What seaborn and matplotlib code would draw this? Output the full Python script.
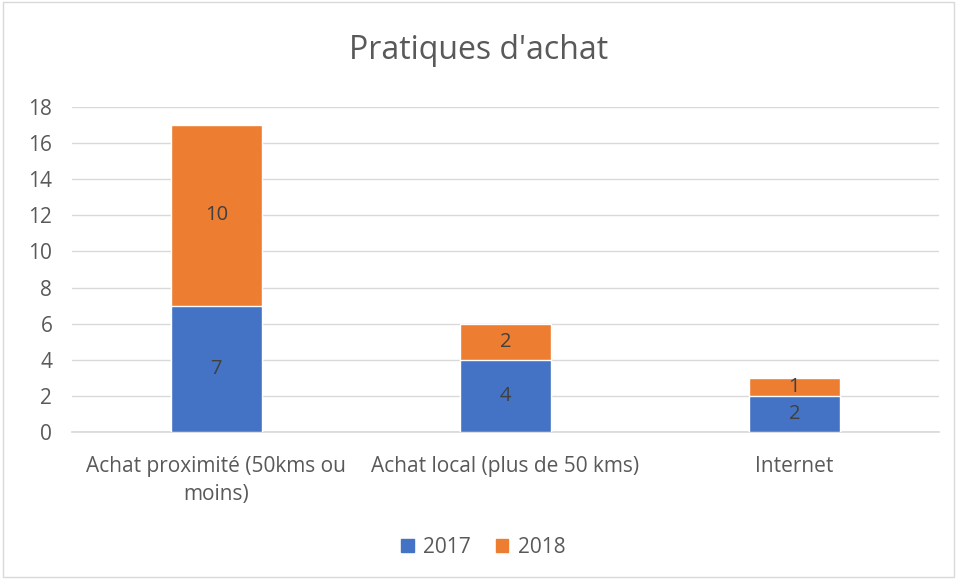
import matplotlib
matplotlib.use("Agg")
import matplotlib.pyplot as plt
import numpy as np
import pandas as pd
import seaborn as sns
from matplotlib.patches import Patch, Rectangle

categories = ["Achat proximité (50kms ou\nmoins)", "Achat local (plus de 50 kms)", "Internet"]
values_2017 = [7, 4, 2]
values_2018 = [10, 2, 1]
yticks = [0, 2, 4, 6, 8, 10, 12, 14, 16, 18]

BLUE = "#4472C4"
ORANGE = "#ED7D31"
TEXT = "#595959"

sns.set_theme(style="white")
plt.rcParams["font.family"] = ["Open Sans", "DejaVu Sans"]

df = pd.DataFrame({
    "cat": categories,
    "y2017": values_2017,
    "total": np.array(values_2017) + np.array(values_2018),
})

fig = plt.figure(figsize=(9.57, 5.79), dpi=100)
ax = fig.add_axes([0.075, 0.254, 0.906, 0.561])

sns.barplot(data=df, x="cat", y="total", color=ORANGE, width=0.315, ax=ax,
            saturation=1, zorder=3)
sns.barplot(data=df, x="cat", y="y2017", color=BLUE, width=0.315, ax=ax,
            saturation=1, zorder=3)

for i, (a, b) in enumerate(zip(values_2017, values_2018)):
    ax.text(i, a / 2, str(a), ha="center", va="center", fontsize=14.5, color="#404040", zorder=4)
    ax.text(i, a + b / 2, str(b), ha="center", va="center", fontsize=14.5, color="#404040", zorder=4)

ax.set_ylim(0, 18)
ax.set_xlim(-0.5, 2.5)
ax.set_yticks(yticks)
ax.set_xlabel("")
ax.set_ylabel("")
ax.yaxis.grid(True, color="#D9D9D9", linewidth=1, zorder=0)
ax.set_axisbelow(True)
for s in ["top", "right", "left"]:
    ax.spines[s].set_visible(False)
ax.spines["bottom"].set_color("#D9D9D9")
ax.tick_params(axis="both", length=0, labelsize=15, colors=TEXT)
ax.tick_params(axis="x", pad=17)
ax.tick_params(axis="y", pad=14)
for lbl in ax.get_xticklabels():
    lbl.set_linespacing(1.45)

fig.text(0.5, 0.913, "Pratiques d'achat", ha="center", va="center", fontsize=23, color=TEXT)

handles = [Patch(color=BLUE, label="2017"), Patch(color=ORANGE, label="2018")]
fig.legend(handles=handles, loc="center", bbox_to_anchor=(0.505, 0.055), ncol=2,
           frameon=False, fontsize=15, labelcolor=TEXT, handlelength=0.6,
           handleheight=0.6, columnspacing=1.2, handletextpad=0.45)

fig.patches.append(Rectangle((0.003, 0.003), 0.994, 0.994, transform=fig.transFigure,
                             fill=False, edgecolor="#D9D9D9", linewidth=1))

fig.savefig("out.png", dpi=100)
